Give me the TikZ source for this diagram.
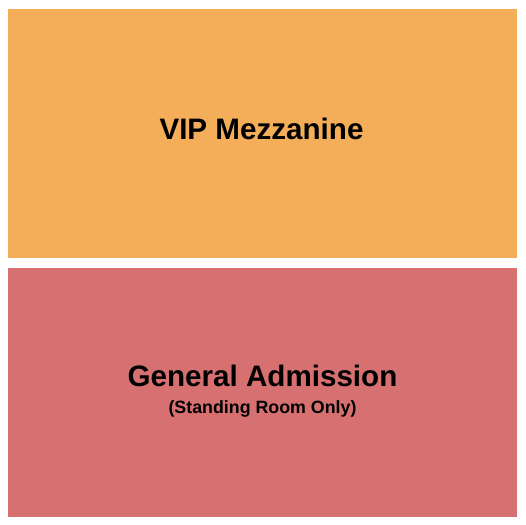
\documentclass[tikz,border=0pt]{standalone}
\usepackage{fontspec}
\setmainfont{Liberation Sans}
\definecolor{vipcol}{RGB}{244,174,89}
\definecolor{gacol}{RGB}{215,112,112}

\begin{document}
\begin{tikzpicture}[x=1bp,y=-1bp,
    title/.style={anchor=base,inner sep=0pt,font=\bfseries\fontsize{29.6bp}{31bp}\selectfont}]
        \useasboundingbox (0,0) rectangle (525,525);
        \fill [vipcol] (8,9.5) rectangle (517,257.5);
        \fill [gacol] (8,268) rectangle (517,517);
        \node[title] (vip) at (261.5,140){VIP Mezzanine};
        \node[title] (ga) at (262.5,386){General Admission};
        % \node (gacenter) at (262.5,392.5){};
        \node[anchor=base,inner sep=0pt,font=\bfseries\fontsize{17.8bp}{19bp}\selectfont] (standing) at (262.5,413){(Standing Room Only)};
      \end{tikzpicture}
\end{document}
